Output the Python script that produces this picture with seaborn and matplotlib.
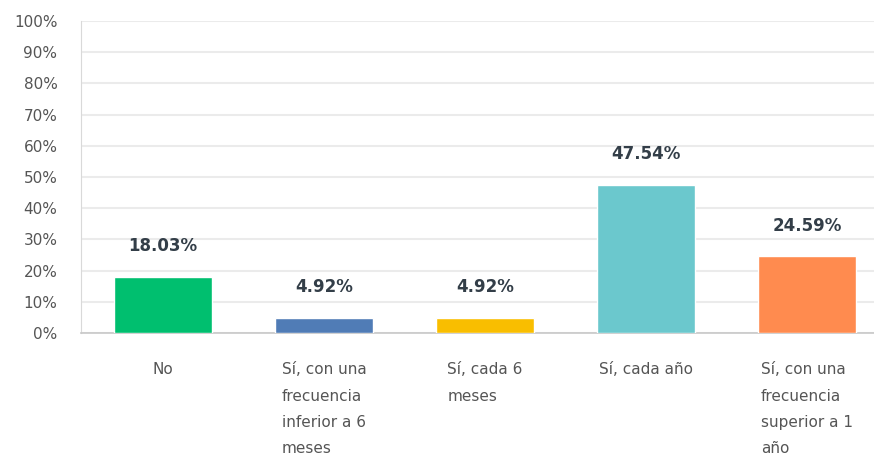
import pandas as pd
import matplotlib.pyplot as plt
import seaborn as sns
from matplotlib.ticker import FuncFormatter

# Datos
categorias = ['No',
              'Sí, con una\nfrecuencia\ninferior a 6\nmeses',
              'Sí, cada 6\nmeses',
              'Sí, cada año',
              'Sí, con una\nfrecuencia\nsuperior a 1\naño']
porcentajes = [18.03, 4.92, 4.92, 47.54, 24.59]
colores = ['#00BF6F', '#507CB6', '#F9BE00', '#6BC8CD', '#FF8B4F']

df = pd.DataFrame({'respuesta': categorias, 'pct': porcentajes})

sns.set_style('white')
plt.rcParams['font.family'] = ['DejaVu Sans']

fig = plt.figure(figsize=(8.74, 4.55), dpi=100)
ax = fig.add_axes([0.0927, 0.268, 0.9073, 0.686])

sns.barplot(data=df, x='respuesta', y='pct', hue='respuesta', palette=colores,
            legend=False, width=0.61, saturation=1, ax=ax, zorder=3)

for i, v in enumerate(porcentajes):
    ax.annotate(f'{v:.2f}%', (i, v), xytext=(0, 22), textcoords='offset points',
                ha='center', va='center', fontsize=12, fontweight='bold',
                color='#333e48')

ax.set_ylim(0, 100)
ax.set_xlim(-0.51, 4.416)
ax.set_yticks(range(0, 101, 10))
ax.yaxis.set_major_formatter(FuncFormatter(lambda y, _: f'{y:.0f}%'))
ax.grid(axis='y', color='#ebebeb', linewidth=1.5, zorder=0)
ax.set_xlabel('')
ax.set_ylabel('')

for s in ['top', 'right']:
    ax.spines[s].set_visible(False)
ax.spines['left'].set_color('#d9d9d9')
ax.spines['bottom'].set_color('#c8c8c8')
ax.spines['bottom'].set_linewidth(1.2)

ax.tick_params(axis='y', length=0, pad=17, labelsize=11, labelcolor='#555555')
ax.tick_params(axis='x', length=0, pad=21, labelsize=11, labelcolor='#555555')
for lbl in ax.get_yticklabels():
    lbl.set_horizontalalignment('right')
for lbl in ax.get_xticklabels():
    lbl.set_multialignment('left')
    lbl.set_linespacing(1.95)
    lbl.set_verticalalignment('top')

plt.savefig('out.png', dpi=100)
